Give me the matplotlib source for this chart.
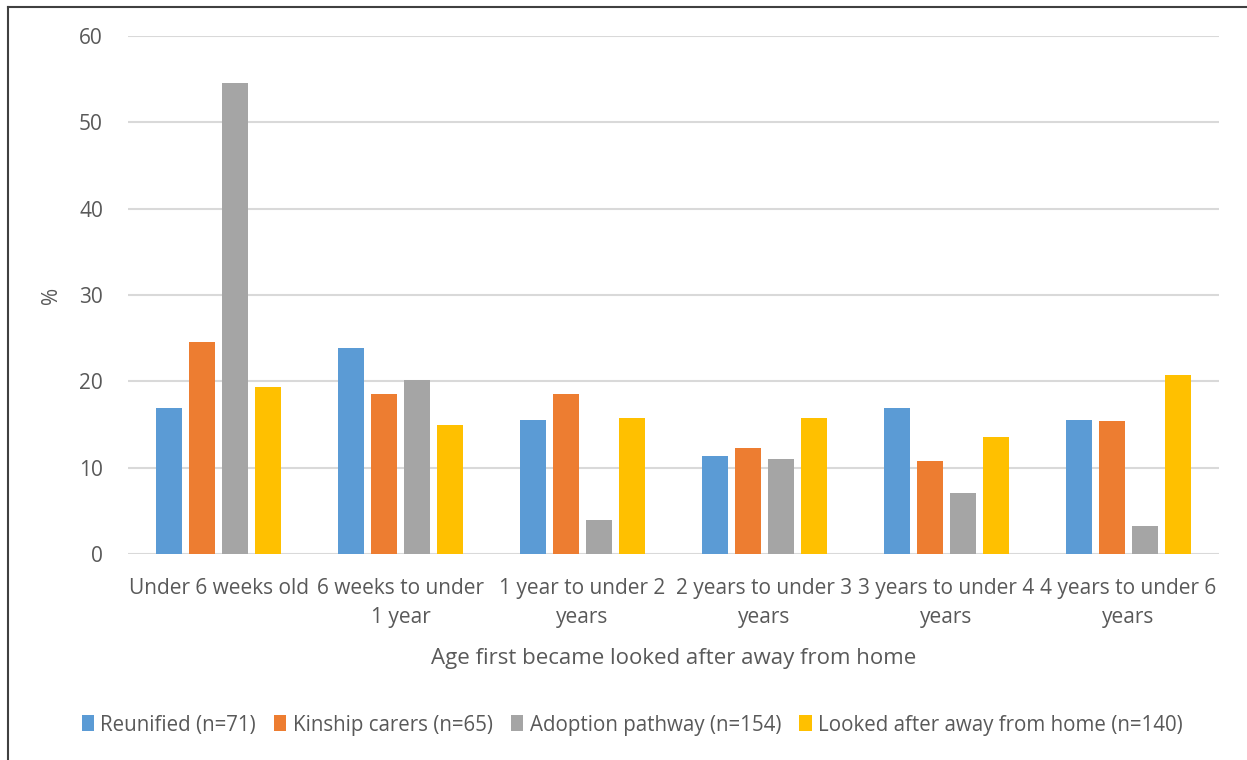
import numpy as np
import matplotlib
matplotlib.use("Agg")
import matplotlib.pyplot as plt
from matplotlib.lines import Line2D

plt.rcParams['font.family'] = ['Open Sans', 'DejaVu Sans']

# Anteile in % je Altersgruppe
categories = ['Under 6 weeks old', '6 weeks to under\n1 year', '1 year to under 2\nyears',
              '2 years to under 3\nyears', '3 years to under 4\nyears', '4 years to under 6\nyears']
reunified = [16.9, 23.9, 15.5, 11.3, 16.9, 15.5]
kinship = [24.6, 18.5, 18.5, 12.3, 10.8, 15.4]
adoption = [54.5, 20.1, 3.9, 11.0, 7.1, 3.2]
looked_after = [19.3, 15.0, 15.7, 15.7, 13.6, 20.7]
series_names = ['Reunified (n=71)', 'Kinship carers (n=65)', 'Adoption pathway (n=154)',
                'Looked after away from home (n=140)']
colors = ['#5b9bd5', '#ed7d31', '#a5a5a5', '#ffc000']

txt = '#595959'
fig = plt.figure(figsize=(12.47, 7.6), dpi=100)
ax = fig.add_axes([128/1247, 206/760, 1091/1247, 518/760])

x = np.arange(len(categories))
step = 0.1815
width = 0.143
for k, (vals, name, c) in enumerate(zip([reunified, kinship, adoption, looked_after], series_names, colors)):
    ax.bar(x + (k - 1.5) * step, vals, width=width, color=c, label=name, zorder=3)

ax.set_xlim(-0.5, len(categories) - 0.5)
ax.set_ylim(0, 60)
ax.set_yticks(range(0, 61, 10))
ax.yaxis.grid(True, color='#d9d9d9', linewidth=1.5, zorder=0)
for s in ax.spines.values():
    s.set_visible(False)
ax.tick_params(length=0, labelsize=15, colors=txt)
ax.tick_params(axis='y', pad=18)
ax.tick_params(axis='x', pad=17)
ax.set_xticks(x)
ax.set_xticklabels(categories, linespacing=1.5)

ax.set_ylabel('%', fontsize=15, color=txt, labelpad=12)
ax.set_xlabel('Age first became looked after away from home', fontsize=16, color=txt, labelpad=15)

ax.legend(loc='center', bbox_to_anchor=(632/1247, 35/760), bbox_transform=fig.transFigure,
          ncol=4, frameon=False, fontsize=14.8, handlelength=0.6, handleheight=0.8,
          handletextpad=0.3, columnspacing=0.9, labelcolor=txt)

# Rahmen links/oben
fig.add_artist(Line2D([7.5/1247, 7.5/1247], [0, 1 - 7/760], transform=fig.transFigure, color='#404040', lw=1.5))
fig.add_artist(Line2D([7.5/1247, 1], [1 - 7/760, 1 - 7/760], transform=fig.transFigure, color='#404040', lw=1.5))

fig.savefig('out.png', dpi=100)
